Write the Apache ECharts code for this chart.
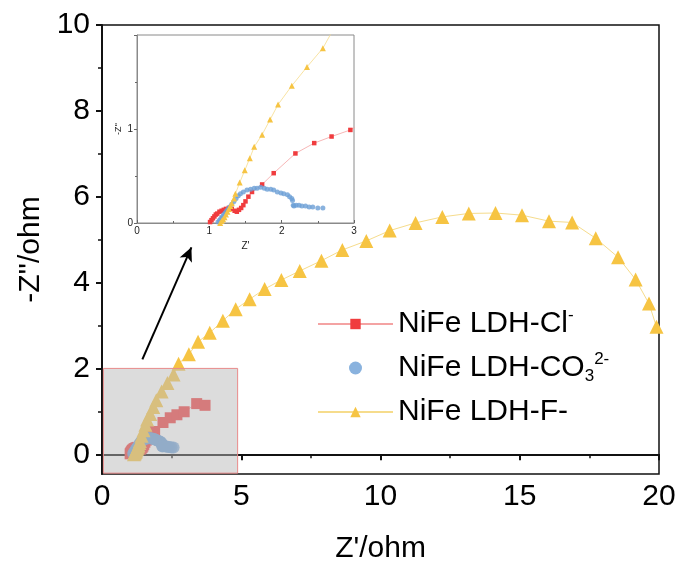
<!DOCTYPE html>
<html>
<head>
<meta charset="utf-8">
<script src="https://cdn.jsdelivr.net/npm/echarts@6/dist/echarts.min.js"></script>
<style>
  html, body { margin: 0; padding: 0; background: #fff; }
  #main { width: 681px; height: 574px; }
</style>
</head>
<body>
<div id="main"></div>
<script>
(function () {
    // Nyquist data (Z' , -Z'')
    var clX = [1.01, 1.03, 1.05, 1.07, 1.09, 1.11, 1.14, 1.17, 1.20, 1.23, 1.27, 1.31, 1.35, 1.38,
        1.41, 1.44, 1.47, 1.50, 1.54, 1.59, 1.73, 1.89, 2.19, 2.45, 2.69, 2.95, 3.40, 3.70];
    var clY = [0.01, 0.03, 0.05, 0.07, 0.09, 0.10, 0.12, 0.13, 0.14, 0.15, 0.16, 0.15, 0.13, 0.12,
        0.14, 0.16, 0.19, 0.23, 0.28, 0.33, 0.41, 0.53, 0.74, 0.85, 0.92, 0.99, 1.18, 1.14];

    var co3X = [1.12, 1.14, 1.16, 1.18, 1.20, 1.22, 1.24, 1.26, 1.28, 1.31, 1.34, 1.37, 1.40, 1.43,
        1.47, 1.52, 1.57, 1.62, 1.66, 1.71, 1.76, 1.80, 1.85, 1.89, 1.94, 1.99, 2.03, 2.08, 2.11,
        2.14, 2.15, 2.16, 2.17, 2.20, 2.24, 2.28, 2.33, 2.38, 2.43, 2.50, 2.57];
    var co3Y = [0.01, 0.03, 0.05, 0.07, 0.09, 0.11, 0.13, 0.15, 0.17, 0.20, 0.23, 0.26, 0.29, 0.31,
        0.33, 0.35, 0.36, 0.37, 0.37, 0.38, 0.37, 0.36, 0.36, 0.35, 0.33, 0.32, 0.31, 0.30, 0.28,
        0.26, 0.24, 0.19, 0.18, 0.19, 0.19, 0.18, 0.18, 0.17, 0.17, 0.16, 0.16];

    var fX = [1.15, 1.17, 1.19, 1.21, 1.23, 1.25, 1.27, 1.29, 1.31, 1.34, 1.36, 1.42, 1.49, 1.56,
        1.62, 1.73, 1.84, 1.95, 2.14, 2.35, 2.57, 2.75, 3.12, 3.45, 3.87, 4.34, 4.80, 5.30, 5.84,
        6.44, 7.10, 7.88, 8.63, 9.49, 10.33, 11.26, 12.22, 13.17, 14.13, 15.08, 16.05, 16.88,
        17.73, 18.53, 19.16, 19.64, 19.91];
    var fY = [0.00, 0.02, 0.04, 0.06, 0.09, 0.12, 0.15, 0.18, 0.21, 0.26, 0.31, 0.43, 0.56, 0.69,
        0.81, 0.94, 1.10, 1.26, 1.46, 1.66, 1.86, 2.11, 2.33, 2.62, 2.83, 3.11, 3.38, 3.61, 3.85,
        4.06, 4.27, 4.51, 4.76, 4.97, 5.21, 5.39, 5.53, 5.61, 5.62, 5.57, 5.43, 5.40,
        5.03, 4.59, 4.07, 3.51, 2.97];

    var yMajor = [0, 2, 4, 6, 8, 10];
    var yMinor = [1, 3, 5, 7, 9];

    var names = ['NiFe LDH-Cl-', 'NiFe LDH-CO32-', 'NiFe LDH-F-'];

    function zip(xs, ys) {
        var out = [];
        for (var i = 0; i < xs.length; i++) out.push([xs[i], ys[i]]);
        return out;
    }
    var clData = zip(clX, clY);
    var co3Data = zip(co3X, co3Y);
    var fData = zip(fX, fY);

    var font = 'Liberation Sans, Arial, sans-serif';
    var red = '#f03c3e', redLine = '#f4a3a3';
    var blue = '#6c9fd6';
    var yellow = '#f6c443', yellowLine = '#f6dc8c';

    var myChart = echarts.init(document.getElementById('main'));
    var option = {
        animation: false,
        backgroundColor: '#fff',
        grid: [
            { left: 102, top: 25, right: 22, bottom: 100, show: true, borderColor: '#111', borderWidth: 1.5 },
            { left: 137, top: 35, width: 217, height: 188, show: true, borderColor: '#8a8a8a', borderWidth: 1, backgroundColor: '#fff' }
        ],
        legend: {
            orient: 'vertical',
            left: 312,
            top: 302,
            itemWidth: 75,
            itemHeight: 13,
            itemGap: 12,
            data: names,
            textStyle: {
                fontFamily: font,
                fontSize: 30,
                color: '#000',
                rich: {
                    n: { fontFamily: font, fontSize: 30, color: '#000', lineHeight: 34 },
                    sup: { fontFamily: font, fontSize: 17, color: '#000', verticalAlign: 'top', lineHeight: 34 },
                    sub: { fontFamily: font, fontSize: 17, color: '#000', verticalAlign: 'bottom', lineHeight: 34 }
                }
            },
            formatter: function (name) {
                if (name === names[0]) return '{n|NiFe LDH-Cl}{sup|-}';
                if (name === names[1]) return '{n|NiFe LDH-CO}{sub|3}{sup|2-}';
                return '{n|NiFe LDH-F-}';
            }
        },
        xAxis: [
            {
                type: 'value', gridIndex: 0, min: 0, max: 20, interval: 5,
                name: "Z'/ohm", nameLocation: 'middle', nameGap: 60,
                nameTextStyle: { fontFamily: font, fontSize: 30, color: '#000' },
                axisLine: { lineStyle: { color: '#111', width: 2 } },
                axisTick: { length: 6, lineStyle: { color: '#111', width: 2 } },
                minorTick: { show: true, splitNumber: 2, length: 4, lineStyle: { color: '#111', width: 1.5 } },
                axisLabel: { fontFamily: font, fontSize: 30, color: '#000', margin: 8 },
                splitLine: { show: false }
            },
            {
                type: 'value', gridIndex: 1, min: 0, max: 3, interval: 1,
                name: "Z'", nameLocation: 'middle', nameGap: 18,
                nameTextStyle: { fontFamily: font, fontSize: 10, color: '#222' },
                axisLine: { lineStyle: { color: '#8a8a8a', width: 1 } },
                axisTick: { length: 3, inside: true, lineStyle: { color: '#666' } },
                minorTick: { show: true, splitNumber: 2, length: 2, lineStyle: { color: '#666' } },
                axisLabel: { fontFamily: font, fontSize: 10, color: '#222', margin: 3 },
                splitLine: { show: false }
            }
        ],
        yAxis: [
            {
                type: 'value', gridIndex: 0, min: -0.46, max: 10,
                name: "-Z''/ohm", nameLocation: 'middle', nameGap: 56,
                nameTextStyle: { fontFamily: font, fontSize: 30, color: '#000' },
                axisLine: { lineStyle: { color: '#111', width: 2 } },
                axisTick: { customValues: yMajor, length: 6, lineStyle: { color: '#111', width: 2 } },
                axisLabel: { customValues: yMajor, fontFamily: font, fontSize: 30, color: '#000', margin: 12 },
                splitLine: { show: false }
            },
            {
                type: 'value', gridIndex: 0, min: -0.46, max: 10, position: 'left',
                axisLine: { show: false },
                axisTick: { customValues: yMinor, length: 4, lineStyle: { color: '#111', width: 1.5 } },
                axisLabel: { show: false },
                splitLine: { show: false }
            },
            {
                type: 'value', gridIndex: 1, min: 0, max: 2, interval: 1,
                name: "-Z''", nameLocation: 'middle', nameGap: 14,
                nameTextStyle: { fontFamily: font, fontSize: 9, color: '#222' },
                axisLine: { lineStyle: { color: '#8a8a8a', width: 1 } },
                axisTick: { length: 3, lineStyle: { color: '#666' } },
                minorTick: { show: true, splitNumber: 2, length: 2, lineStyle: { color: '#666' } },
                axisLabel: { fontFamily: font, fontSize: 10, color: '#222', margin: 4, showMaxLabel: false },
                splitLine: { show: false }
            }
        ],
        series: [
            {
                name: names[0], type: 'line', xAxisIndex: 0, yAxisIndex: 0,
                data: clData, symbol: 'rect', symbolSize: 11,
                itemStyle: { color: red },
                lineStyle: { color: redLine, width: 1 },
                z: 3,
                markLine: {
                    silent: true,
                    symbol: ['none', 'arrow'],
                    symbolSize: [10, 14],
                    label: { show: false },
                    lineStyle: { color: '#000', width: 2, type: 'solid' },
                    data: [[{ coord: [1.45, 2.21] }, { coord: [3.21, 4.82] }]]
                }
            },
            {
                name: names[1], type: 'scatter', xAxisIndex: 0, yAxisIndex: 0,
                data: co3Data, symbol: 'circle', symbolSize: 12,
                itemStyle: { color: blue },
                z: 3
            },
            {
                name: names[2], type: 'line', xAxisIndex: 0, yAxisIndex: 0,
                data: fData, symbol: 'triangle', symbolSize: 14,
                itemStyle: { color: yellow },
                lineStyle: { color: yellowLine, width: 1 },
                z: 3,
                markArea: {
                    silent: true,
                    z: 6,
                    itemStyle: { color: 'rgba(185,185,185,0.5)', borderColor: '#e88a8a', borderWidth: 1 },
                    data: [[{ coord: [0.05, -0.44] }, { coord: [4.87, 2] }]]
                }
            },
            // inset (same data, zoomed)
            {
                name: names[0], type: 'line', xAxisIndex: 1, yAxisIndex: 2,
                data: clData, symbol: 'rect', symbolSize: 4.5, clip: true,
                itemStyle: { color: red },
                lineStyle: { color: redLine, width: 0.8 },
                z: 4
            },
            {
                name: names[1], type: 'scatter', xAxisIndex: 1, yAxisIndex: 2,
                data: co3Data, symbol: 'circle', symbolSize: 5, clip: true,
                itemStyle: { color: blue },
                z: 4
            },
            {
                name: names[2], type: 'line', xAxisIndex: 1, yAxisIndex: 2,
                data: fData, symbol: 'triangle', symbolSize: 6, clip: true,
                itemStyle: { color: yellow },
                lineStyle: { color: yellowLine, width: 0.8 },
                z: 4
            }
        ]
    };
    myChart.setOption(option);
})();
</script>
</body>
</html>
